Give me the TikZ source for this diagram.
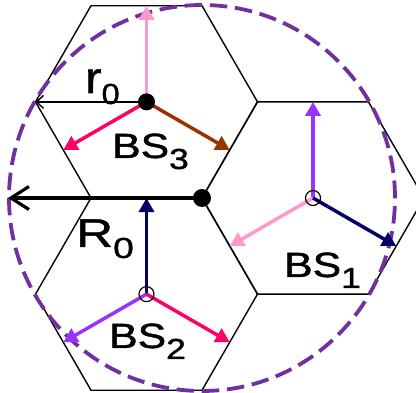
\documentclass[tikz,border=0pt]{standalone}
\usepackage{fontspec}
\setmainfont{Liberation Sans}
\newfontfamily\lblfont{Liberation Sans}[FakeBold=1.2]
\usepackage{xcolor}
\usepackage{tikz}
\usetikzlibrary{arrows.meta,calc}

\definecolor{softpink}{HTML}{FF99CC}
\definecolor{hotpink}{HTML}{FF0066}
\definecolor{rust}{HTML}{993300}
\definecolor{beamviolet}{HTML}{9933FF}
\definecolor{navyblue}{HTML}{000066}
\definecolor{rimpurple}{HTML}{7030A0}

\newcommand{\lsub}[1]{\raisebox{-11pt}{\fontsize{29}{29}\selectfont #1}}

\begin{document}
\begin{tikzpicture}[x=1pt, y=1pt,
  cell/.style={line width=1.4pt},
  beam/.style={-{Triangle[length=14pt,width=15pt]}, line width=3.5pt},
  rim/.style={rimpurple, line width=3.8pt, dash pattern=on 17.5pt off 7.76pt},
  bsdot/.style={circle, fill=black, inner sep=0pt, minimum size=17pt},
  bsring/.style={circle, draw, line width=1.2pt, inner sep=0pt, minimum size=15pt},
  lbl/.style={anchor=base west, inner sep=0pt}
]
\useasboundingbox (-202,-195) rectangle (214,198);
\clip (-202,-195) rectangle (214,198);

% Центры сот
\coordinate (hub) at (0,0);
\coordinate (c1) at (0:111);
\coordinate (c2) at (240:111);
\coordinate (c3) at (120:111);

% Соты
\foreach \c in {c1,c2,c3}
  \draw[cell] (\c) ++(0:111) -- ++(120:111) -- ++(180:111) -- ++(240:111)
    -- ++(300:111) -- ++(0:111) -- cycle;

% Зона покрытия
\draw[rim] (hub) circle[radius=193];

% Радиусы
\coordinate (rtip) at ($(c3)+(180:111)$);
\coordinate (Rtip) at (-194,0);
\draw[-{Straight Barb[length=7pt,width=13pt]}, line width=1.4pt] (c3) -- (rtip);
\draw[-{Straight Barb[length=18pt,width=23pt]}, line width=3.2pt] (hub) -- (Rtip);

% Секторные лучи
\foreach \c/\ca/\cb/\cc in {c3/softpink/hotpink/rust,
                             c1/beamviolet/softpink/navyblue,
                             c2/navyblue/beamviolet/hotpink} {
  \coordinate (\c-n)  at ($(\c)+(90:96.1)$);
  \coordinate (\c-sw) at ($(\c)+(210:96.1)$);
  \coordinate (\c-se) at ($(\c)+(330:96.1)$);
  \draw[beam, \ca] (\c) -- (\c-n);
  \draw[beam, \cb] (\c) -- (\c-sw);
  \draw[beam, \cc] (\c) -- (\c-se);
}

% Базовые станции
\node[bsdot, minimum size=18pt] (hubdot) at (hub) {};
\node[bsdot] (bs3) at (c3) {};
\node[bsring] (bs1) at (c1) {};
\node[bsring] (bs2) at (c2) {};

% Подписи
\node[lbl, font=\lblfont\fontsize{44}{44}\selectfont] (rlab) at (-117,105) {\scalebox{1.12}[1]{r\lsub{0}}};
\node[lbl, font=\lblfont\fontsize{40}{40}\selectfont] (Rlab) at (-126,-49) {\scalebox{1.28}[1]{R\lsub{0}}};
\node[lbl, font=\lblfont\fontsize{35}{35}\selectfont] (lab3) at (-90,40) {\scalebox{1.22}[1]{BS\lsub{3}}};
\node[lbl, font=\lblfont\fontsize{35}{35}\selectfont] (lab1) at (82,-79) {\scalebox{1.22}[1]{BS\lsub{1}}};
\node[lbl, font=\lblfont\fontsize{35}{35}\selectfont] (lab2) at (-93,-150) {\scalebox{1.22}[1]{BS\lsub{2}}};

\end{tikzpicture}
\end{document}
